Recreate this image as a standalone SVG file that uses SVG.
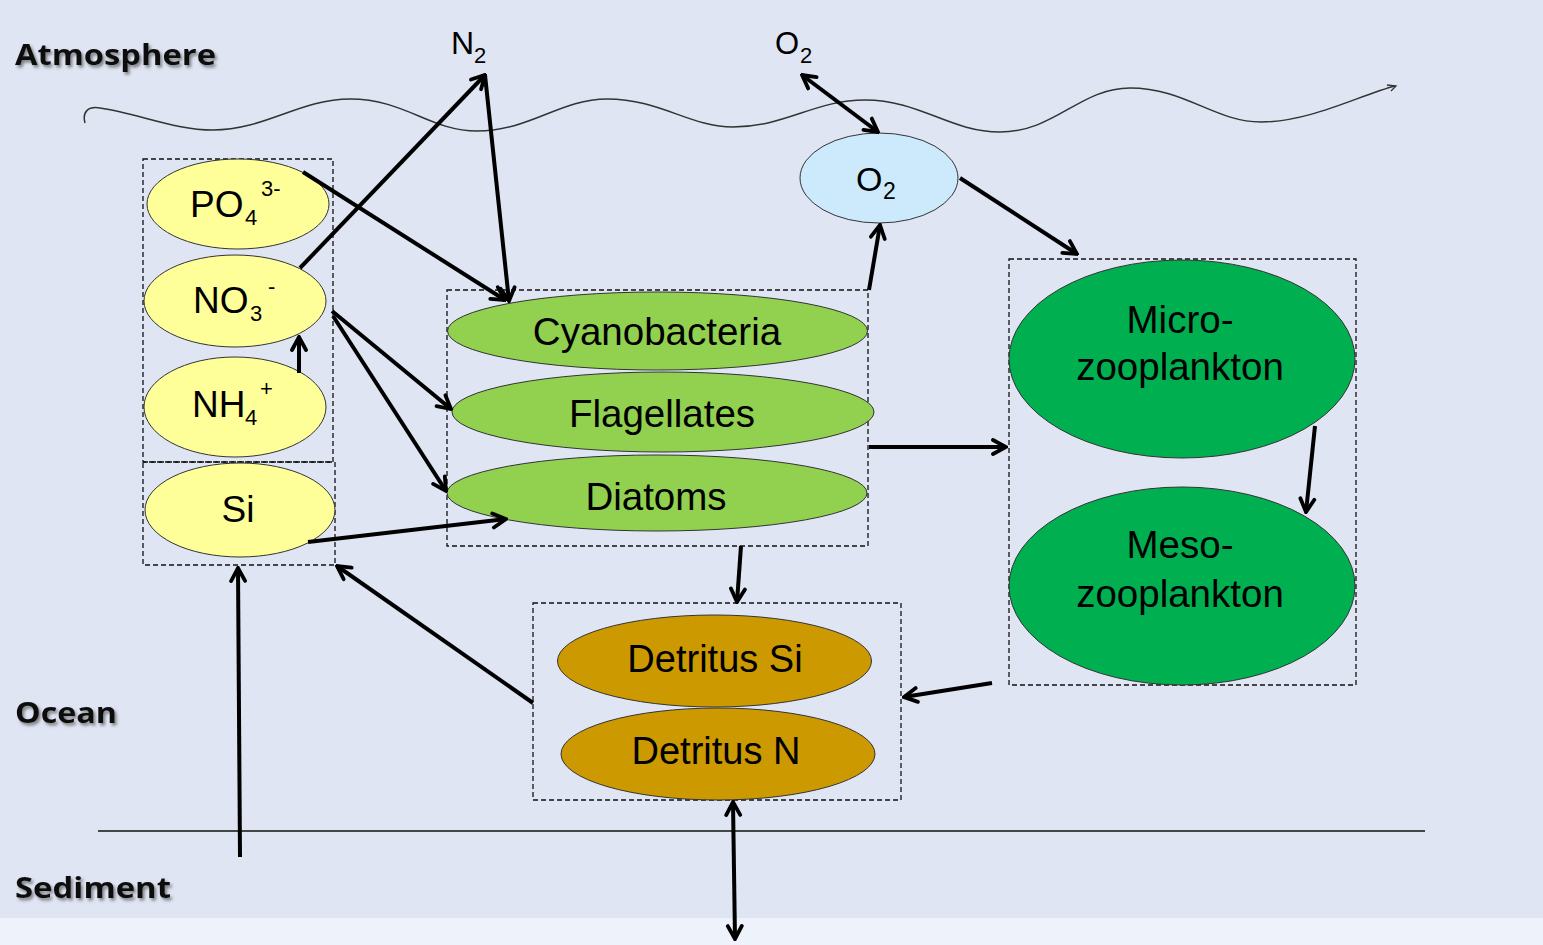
<svg xmlns="http://www.w3.org/2000/svg" width="1543" height="945" viewBox="0 0 1543 945">
<defs>
<style>
.lbl{font-family:"Liberation Sans",Arial,sans-serif;fill:#000}
.region{font-family:"Open Sans",Lato,sans-serif;font-weight:bold;font-size:29px;fill:#111;filter:url(#sh)}
.box{fill:none;stroke:#111;stroke-width:1.3;stroke-dasharray:5 3}
.node{stroke:#333;stroke-width:1}
.yel{fill:#ffff99}
.grn{fill:#92d050}
.dgrn{fill:#00b050}
.det{fill:#cc9900}
.oxy{fill:#cdeafc}
.arr{fill:none;stroke:#000;stroke-width:4;marker-end:url(#ah)}
.arr2{fill:none;stroke:#000;stroke-width:4;marker-end:url(#ah);marker-start:url(#ah)}
</style>
<marker id="ah" viewBox="0 0 20 20" markerWidth="20" markerHeight="20" refX="18" refY="10" orient="auto-start-reverse" markerUnits="userSpaceOnUse">
<path d="M5,3 L18,10 L5,17" fill="none" stroke="#000" stroke-width="3.8" stroke-linecap="round"/>
</marker>
<filter id="sh" x="-10%" y="-30%" width="130%" height="180%">
<feDropShadow dx="2" dy="2.5" stdDeviation="1.5" flood-color="#555" flood-opacity="0.7"/>
</filter>
</defs>

<rect x="0" y="0" width="1543" height="945" fill="#dfe5f3"/>
<rect x="0" y="918" width="1543" height="27" fill="#eef2fa"/>

<g id="background">
<path d="M 85,123 C 82,112 88,106 100,108 C 140,114 175,130 213,130 C 265,130 300,99 350,99 C 405,99 430,131 477,131 C 530,131 560,99 607,99 C 660,99 690,127 733,127 C 785,127 815,100 865,100 C 920,100 950,132 1000,132 C 1055,132 1080,88 1130,88 C 1185,88 1215,122 1261,122 C 1310,122 1360,95 1395,86" fill="none" stroke="#333" stroke-width="1.5"/>
<path d="M1387,85 L1396,86 L1391,91" fill="none" stroke="#333" stroke-width="1.3"/>
<line x1="98" y1="831" x2="1425" y2="831" stroke="#111" stroke-width="1.5"/>
<text class="region" x="15" y="65" textLength="201" lengthAdjust="spacingAndGlyphs">Atmosphere</text>
<text class="region" x="15" y="723" textLength="102" lengthAdjust="spacingAndGlyphs">Ocean</text>
<text class="region" x="15" y="898" textLength="156" lengthAdjust="spacingAndGlyphs">Sediment</text>
<text class="lbl" font-size="32"><tspan x="451" y="54">N</tspan><tspan x="474" y="63" font-size="22">2</tspan></text>
<text class="lbl" font-size="31"><tspan x="775" y="54">O</tspan><tspan x="800" y="63" font-size="22">2</tspan></text>
</g>

<g id="nutrients">
<rect class="box" x="143" y="159" width="190" height="303"/>
<rect class="box" x="143" y="462" width="192" height="103"/>
</g>
<g id="PO4">
<ellipse class="node yel" cx="238" cy="204" rx="91" ry="45"/>
<text class="lbl" font-size="37"><tspan x="190" y="217">PO</tspan><tspan x="245" y="225" font-size="22">4</tspan><tspan x="261" y="196" font-size="22">3-</tspan></text>
</g>
<g id="NO3">
<ellipse class="node yel" cx="235" cy="301" rx="91" ry="46"/>
<text class="lbl" font-size="37"><tspan x="193" y="313">NO</tspan><tspan x="250" y="321" font-size="22">3</tspan><tspan x="268" y="294" font-size="22">-</tspan></text>
</g>
<g id="NH4">
<ellipse class="node yel" cx="235" cy="407" rx="91" ry="50"/>
<text class="lbl" font-size="37"><tspan x="192" y="417">NH</tspan><tspan x="245" y="425" font-size="22">4</tspan><tspan x="260" y="396" font-size="22">+</tspan></text>
</g>
<g id="Si">
<ellipse class="node yel" cx="240" cy="510" rx="95" ry="47"/>
<text class="lbl" font-size="37" x="238" y="522" text-anchor="middle">Si</text>
</g>

<g id="phytoplankton">
<rect class="box" x="447" y="290" width="421" height="256"/>
</g>
<g id="Cyanobacteria">
<ellipse class="node grn" cx="657.5" cy="331" rx="210" ry="39"/>
<text class="lbl" font-size="38.5" x="657" y="345" text-anchor="middle">Cyanobacteria</text>
</g>
<g id="Flagellates">
<ellipse class="node grn" cx="663" cy="412" rx="211" ry="40"/>
<text class="lbl" font-size="38.5" x="662" y="427" text-anchor="middle">Flagellates</text>
</g>
<g id="Diatoms">
<ellipse class="node grn" cx="657" cy="493" rx="210" ry="38"/>
<text class="lbl" font-size="38.5" x="656" y="510" text-anchor="middle">Diatoms</text>
</g>

<g id="O2">
<ellipse class="node oxy" cx="879" cy="178" rx="79" ry="45"/>
<text class="lbl" font-size="34"><tspan x="856" y="191">O</tspan><tspan x="883" y="199" font-size="23">2</tspan></text>
</g>

<g id="zooplankton">
<rect class="box" x="1009" y="259" width="347" height="426"/>
</g>
<g id="Microzooplankton">
<ellipse class="node dgrn" cx="1182" cy="359" rx="173" ry="99"/>
<text class="lbl" font-size="38.5" text-anchor="middle"><tspan x="1180" y="333">Micro-</tspan><tspan x="1180" y="380">zooplankton</tspan></text>
</g>
<g id="Mesozooplankton">
<ellipse class="node dgrn" cx="1182" cy="586" rx="173" ry="99"/>
<text class="lbl" font-size="38.5" text-anchor="middle"><tspan x="1180" y="558">Meso-</tspan><tspan x="1180" y="607">zooplankton</tspan></text>
</g>

<g id="detritus">
<rect class="box" x="533" y="603" width="368" height="197"/>
</g>
<g id="DetritusSi">
<ellipse class="node det" cx="714.5" cy="661" rx="157" ry="46"/>
<text class="lbl" font-size="38" x="715" y="672" text-anchor="middle">Detritus Si</text>
</g>
<g id="DetritusN">
<ellipse class="node det" cx="718" cy="754" rx="157" ry="46"/>
<text class="lbl" font-size="38" x="716" y="764" text-anchor="middle">Detritus N</text>
</g>

<g id="connectors">
<line class="arr" x1="300" y1="268" x2="485" y2="75"/>
<line class="arr" x1="485" y1="75" x2="509" y2="301"/>
<line class="arr" x1="303" y1="172" x2="505" y2="300"/>
<line class="arr" x1="332" y1="311" x2="451" y2="409"/>
<line class="arr" x1="333" y1="316" x2="446" y2="491"/>
<line class="arr" x1="299" y1="373" x2="299" y2="337"/>
<line class="arr" x1="308" y1="542" x2="506" y2="519"/>
<line class="arr" x1="869" y1="290" x2="880" y2="225"/>
<line class="arr2" x1="802" y1="75" x2="878" y2="132"/>
<line class="arr" x1="960" y1="178" x2="1077" y2="254"/>
<line class="arr" x1="869" y1="447" x2="1006" y2="447"/>
<line class="arr" x1="1315" y1="426" x2="1306" y2="512"/>
<line class="arr" x1="992" y1="683" x2="904" y2="697"/>
<line class="arr" x1="533" y1="703" x2="337" y2="566"/>
<line class="arr" x1="741" y1="546" x2="737" y2="602"/>
<line class="arr" x1="240" y1="857" x2="238" y2="568"/>
<line class="arr2" x1="733" y1="802" x2="735" y2="939"/>
</g>
</svg>
